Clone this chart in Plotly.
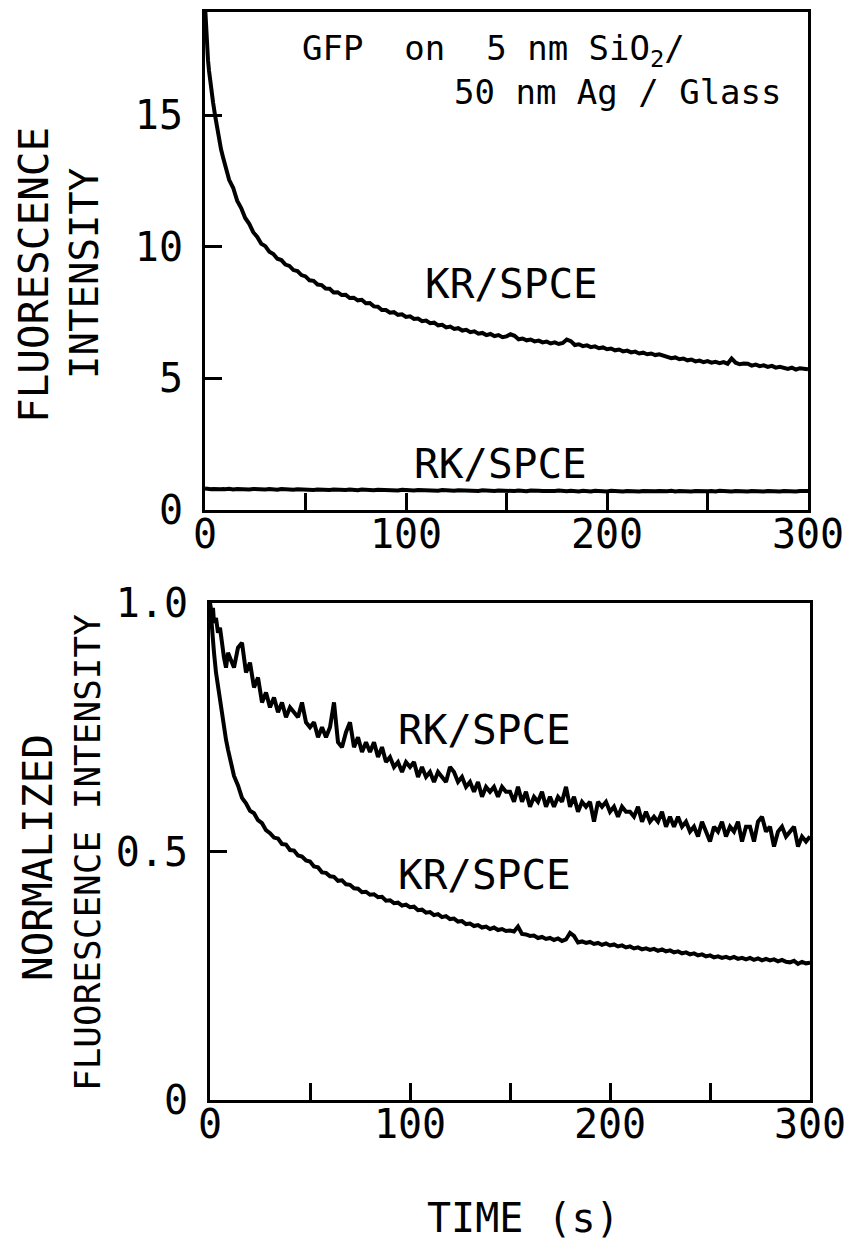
import plotly.graph_objects as go

# ---------------- data ----------------
TIME_EARLY = [0, 0.5, 1, 1.5, 2, 3, 4, 5, 6, 7, 8, 9]
TIME_MAIN = list(range(10, 301, 2))
TIME = TIME_EARLY + TIME_MAIN

# top panel: absolute fluorescence intensity
KR_ABS = [19.2, 18.3, 17.6, 17.1, 16.7, 16.0, 15.5, 15.0, 14.5, 14.1, 13.7, 13.4,
          13.12, 12.55, 12.25, 11.76, 11.48, 11.10, 10.88, 10.56, 10.38, 10.12,
          10.03, 9.82, 9.73, 9.55, 9.50, 9.33, 9.28, 9.12, 9.08, 8.93,
          8.88, 8.73, 8.71, 8.57, 8.55, 8.42, 8.41, 8.27, 8.28, 8.17,
          8.18, 8.06, 8.07, 7.97, 7.99, 7.86, 7.87, 7.74, 7.73, 7.60,
          7.60, 7.50, 7.52, 7.42, 7.44, 7.34, 7.36, 7.26, 7.28, 7.18,
          7.20, 7.10, 7.12, 7.02, 7.04, 6.94, 6.97, 6.88, 6.91, 6.82,
          6.85, 6.76, 6.79, 6.70, 6.73, 6.65, 6.69, 6.61, 6.65, 6.57,
          6.60, 6.68, 6.62, 6.49, 6.52, 6.45, 6.48, 6.41, 6.44, 6.37,
          6.40, 6.33, 6.37, 6.31, 6.35, 6.48, 6.42, 6.27, 6.30, 6.23,
          6.26, 6.19, 6.22, 6.15, 6.18, 6.11, 6.14, 6.07, 6.10, 6.03,
          6.06, 5.99, 6.02, 5.95, 5.98, 5.92, 5.95, 5.89, 5.92, 5.86,
          5.84, 5.77, 5.80, 5.73, 5.76, 5.69, 5.72, 5.65, 5.68, 5.62,
          5.66, 5.60, 5.63, 5.58, 5.62, 5.56, 5.76, 5.60, 5.54, 5.57,
          5.56, 5.49, 5.53, 5.47, 5.50, 5.44, 5.48, 5.41, 5.44, 5.38,
          5.36, 5.41, 5.34, 5.39, 5.37, 5.35]

RK_ABS = [0.82, 0.81, 0.80, 0.81, 0.80, 0.79, 0.80, 0.79, 0.80, 0.78, 0.79, 0.80,
          0.79, 0.81, 0.78, 0.80, 0.79, 0.81, 0.78, 0.80, 0.79, 0.80,
          0.78, 0.80, 0.79, 0.77, 0.80, 0.78, 0.79, 0.77, 0.79, 0.78,
          0.77, 0.79, 0.76, 0.78, 0.77, 0.79, 0.76, 0.78, 0.77, 0.78,
          0.76, 0.78, 0.77, 0.75, 0.78, 0.76, 0.77, 0.75, 0.77, 0.76,
          0.75, 0.77, 0.76, 0.74, 0.77, 0.75, 0.76, 0.74, 0.76, 0.75,
          0.74, 0.76, 0.75, 0.73, 0.76, 0.74, 0.75, 0.73, 0.75, 0.74,
          0.73, 0.75, 0.74, 0.72, 0.75, 0.73, 0.74, 0.72, 0.74, 0.73,
          0.73, 0.74, 0.72, 0.74, 0.73, 0.71, 0.74, 0.72, 0.73, 0.72,
          0.71, 0.73, 0.72, 0.74, 0.72, 0.71, 0.73, 0.72, 0.70, 0.73,
          0.72, 0.70, 0.73, 0.71, 0.72, 0.70, 0.73, 0.71, 0.72, 0.70,
          0.72, 0.71, 0.73, 0.70, 0.72, 0.71, 0.73, 0.71, 0.72, 0.70,
          0.71, 0.73, 0.70, 0.72, 0.71, 0.73, 0.70, 0.72, 0.71, 0.73,
          0.71, 0.72, 0.70, 0.73, 0.71, 0.72, 0.70, 0.72, 0.71, 0.73,
          0.70, 0.72, 0.71, 0.73, 0.70, 0.72, 0.71, 0.72, 0.70, 0.72,
          0.71, 0.73, 0.70, 0.72, 0.71, 0.72]

# bottom panel: normalized fluorescence intensity
NORM_RK = [1.00, 0.99, 0.97, 0.99, 0.96, 0.97, 0.94, 0.95, 0.91, 0.89, 0.87, 0.90,
           0.89, 0.87, 0.91, 0.92, 0.86, 0.88, 0.83, 0.85, 0.80, 0.82,
           0.79, 0.81, 0.78, 0.80, 0.77, 0.79, 0.78, 0.77, 0.80, 0.76,
           0.75, 0.76, 0.73, 0.75, 0.73, 0.75, 0.80, 0.72, 0.71, 0.74,
           0.76, 0.71, 0.73, 0.70, 0.72, 0.70, 0.72, 0.69, 0.71, 0.68,
           0.69, 0.67, 0.68, 0.66, 0.68, 0.67, 0.68, 0.65, 0.67, 0.65,
           0.66, 0.64, 0.66, 0.65, 0.64, 0.67, 0.66, 0.64, 0.65, 0.63,
           0.64, 0.62, 0.64, 0.61, 0.63, 0.62, 0.63, 0.61, 0.63, 0.62,
           0.62, 0.60, 0.63, 0.60, 0.62, 0.59, 0.61, 0.60, 0.62, 0.59,
           0.61, 0.59, 0.61, 0.60, 0.63, 0.59, 0.61, 0.58, 0.60, 0.59,
           0.60, 0.56, 0.60, 0.59, 0.60, 0.58, 0.59, 0.57, 0.59, 0.58,
           0.58, 0.57, 0.59, 0.56, 0.58, 0.56, 0.57, 0.56, 0.58, 0.55,
           0.57, 0.55, 0.57, 0.55, 0.56, 0.54, 0.55, 0.53, 0.56, 0.54,
           0.52, 0.55, 0.54, 0.56, 0.53, 0.55, 0.54, 0.56, 0.52, 0.55,
           0.55, 0.52, 0.56, 0.57, 0.54, 0.55, 0.51, 0.54, 0.55, 0.53,
           0.54, 0.55, 0.51, 0.53, 0.52, 0.53]

NORM_KR = [1.00, 0.97, 0.94, 0.92, 0.90, 0.86, 0.83, 0.80, 0.775, 0.75, 0.725, 0.705,
           0.688, 0.652, 0.633, 0.608, 0.597, 0.582, 0.577, 0.563, 0.557, 0.543,
           0.537, 0.528, 0.526, 0.515, 0.514, 0.503, 0.502, 0.492, 0.490, 0.482,
           0.480, 0.470, 0.468, 0.458, 0.457, 0.450, 0.449, 0.441, 0.442, 0.434,
           0.433, 0.426, 0.425, 0.418, 0.419, 0.413, 0.414, 0.408, 0.409, 0.401,
           0.402, 0.396, 0.397, 0.391, 0.393, 0.388, 0.389, 0.382, 0.383, 0.377,
           0.378, 0.372, 0.374, 0.368, 0.370, 0.364, 0.365, 0.359, 0.360, 0.354,
           0.355, 0.350, 0.352, 0.347, 0.349, 0.344, 0.347, 0.342, 0.344, 0.340,
           0.341, 0.339, 0.349, 0.334, 0.333, 0.330, 0.331, 0.326, 0.328, 0.324,
           0.326, 0.322, 0.325, 0.320, 0.323, 0.336, 0.330, 0.317, 0.319, 0.316,
           0.318, 0.314, 0.316, 0.312, 0.315, 0.311, 0.313, 0.309, 0.311, 0.307,
           0.309, 0.305, 0.307, 0.303, 0.305, 0.302, 0.304, 0.300, 0.303, 0.299,
           0.301, 0.297, 0.299, 0.295, 0.297, 0.293, 0.295, 0.291, 0.293, 0.289,
           0.291, 0.287, 0.289, 0.286, 0.288, 0.285, 0.288, 0.284, 0.286, 0.283,
           0.286, 0.282, 0.285, 0.281, 0.284, 0.281, 0.283, 0.279, 0.282, 0.278,
           0.277, 0.280, 0.274, 0.278, 0.275, 0.276]

X_TICKS = [0, 50, 100, 150, 200, 250, 300]
X_TICKTEXT = ["0", "", "100", "", "200", "", "300"]
TOP_Y_TICKS = [0, 5, 10, 15]
TOP_Y_TICKTEXT = ["0", "5", "10", "15"]
BOT_Y_TICKS = [0, 0.5, 1.0]
BOT_Y_TICKTEXT = ["0", "0.5", "1.0"]

# ---------------- figure ----------------
W, H = 853, 1241
FONT = "DejaVu Sans Mono"
LINE = dict(color="black", width=4)

fig = go.Figure()
fig.add_trace(go.Scatter(x=TIME, y=KR_ABS, mode="lines", line=LINE, xaxis="x", yaxis="y"))
fig.add_trace(go.Scatter(x=TIME, y=RK_ABS, mode="lines", line=LINE, xaxis="x", yaxis="y"))
fig.add_trace(go.Scatter(x=TIME, y=NORM_RK, mode="lines", line=LINE, xaxis="x2", yaxis="y2"))
fig.add_trace(go.Scatter(x=TIME, y=NORM_KR, mode="lines", line=LINE, xaxis="x2", yaxis="y2"))


def px_x(p):
    return p / W


def px_y(p):
    return 1 - p / H


common = dict(showgrid=False, zeroline=False, showline=True, mirror=True,
              linecolor="black", linewidth=3, ticks="inside", ticklen=17,
              tickwidth=2.5, tickcolor="black", automargin=False,
              tickfont=dict(family=FONT, size=40, color="black"))

fig.update_layout(
    template="none",
    width=W, height=H, margin=dict(l=0, r=0, t=0, b=0, pad=0, autoexpand=False),
    paper_bgcolor="white", plot_bgcolor="white", showlegend=False,
    xaxis=dict(domain=[px_x(205), px_x(808)], anchor="y", range=[0, 300],
               tickvals=X_TICKS, ticktext=X_TICKTEXT, ticklabelstandoff=-13, **common),
    yaxis=dict(domain=[px_y(510), px_y(12)], anchor="x", range=[0, 18.93],
               tickvals=TOP_Y_TICKS, ticktext=TOP_Y_TICKTEXT, ticklabelstandoff=11, **common),
    xaxis2=dict(domain=[px_x(210), px_x(810)], anchor="y2", range=[0, 300],
                tickvals=X_TICKS, ticktext=X_TICKTEXT, ticklabelstandoff=-13, **common),
    yaxis2=dict(domain=[px_y(1100), px_y(603)], anchor="x2", range=[0, 1.0],
                tickvals=BOT_Y_TICKS, ticktext=BOT_Y_TICKTEXT, ticklabelstandoff=11, **common),
)


def paper_text(text, cx, cy, size, angle=0):
    return dict(text=text, x=px_x(cx), y=px_y(cy), xref="paper", yref="paper",
                xanchor="center", yanchor="middle", textangle=angle, showarrow=False,
                font=dict(family=FONT, size=size, color="black"))


def data_text(text, x, y, xr, yr, size, xanchor="center"):
    return dict(text=text, x=x, y=y, xref=xr, yref=yr, xanchor=xanchor,
                yanchor="middle", showarrow=False,
                font=dict(family=FONT, size=size, color="black"))


annotations = [
    # axis titles
    paper_text("FLUORESCENCE", 34, 275, 41, -90),
    paper_text("INTENSITY", 84, 274, 39, -90),
    paper_text("NORMALIZED", 38, 858, 41, -90),
    paper_text("FLUORESCENCE INTENSITY", 87, 853, 36, -90),
    paper_text("TIME (s)", 523, 1218, 40),
    # panel text
    data_text("GFP\u00a0\u00a0on\u00a0\u00a05\u00a0nm\u00a0SiO<sub>2</sub>/", 47.3, 17.45,
              "x", "y", 34, "left"),
    data_text("50\u00a0nm\u00a0Ag\u00a0/\u00a0Glass", 122.9, 15.9, "x", "y", 34, "left"),
    # curve labels
    data_text("KR/SPCE", 152.7, 8.6, "x", "y", 41),
    data_text("RK/SPCE", 146.8, 1.75, "x", "y", 41),
    data_text("RK/SPCE", 137, 0.744, "x2", "y2", 41),
    data_text("KR/SPCE", 137, 0.453, "x2", "y2", 41),
]
fig.update_layout(annotations=annotations)

fig.write_html("out.html")
